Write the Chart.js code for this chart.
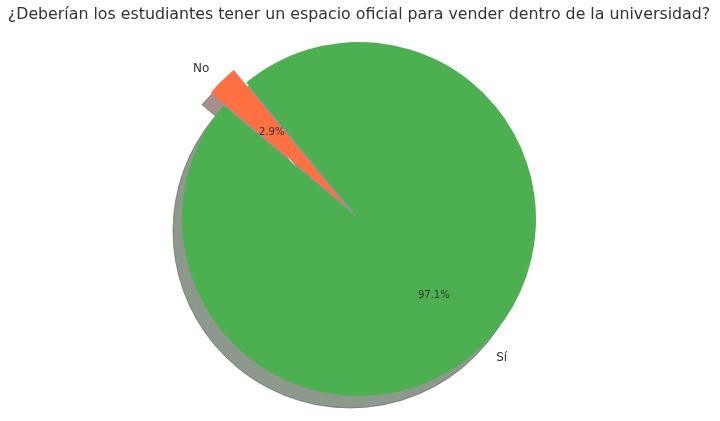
<!DOCTYPE html>
<html>
<head>
<meta charset="utf-8">
<script src="https://cdn.jsdelivr.net/npm/chart.js@4/dist/chart.umd.min.js"></script>
<style>
  html, body { margin: 0; padding: 0; background: #fff; }
  #wrap { width: 720px; height: 421px; }
</style>
</head>
<body>
<div id="wrap"><canvas id="pieChart"></canvas></div>
<script>
// datos del gráfico
const etiquetas = ['No', 'Sí'];
const valores = [2.9, 97.1];
const colores = ['#FF7043', '#4CAF50'];
const coloresSombra = ['rgb(166,144,137)', 'rgb(140,153,140)'];
const separar = [0.1, 0]; // fracción del radio

const titulo = '¿Deberían los estudiantes tener un espacio oficial para vender dentro de la universidad?';

// separa la porción "No" del centro
const explodePlugin = {
  id: 'explode',
  afterDatasetUpdate(chart, args) {
    args.meta.data.forEach(function(el, i) {
      const mid = (el.startAngle + el.endAngle) / 2;
      const d = separar[i] * el.outerRadius;
      el.x += Math.cos(mid) * d;
      el.y += Math.sin(mid) * d;
    });
  }
};

// sombra debajo de cada porción
const shadowPlugin = {
  id: 'sombra',
  beforeDatasetsDraw(chart) {
    const ctx = chart.ctx;
    const arcs = chart.getDatasetMeta(0).data;
    ctx.save();
    ctx.translate(-9, 12);
    arcs.forEach(function(el, i) {
      ctx.beginPath();
      ctx.moveTo(el.x, el.y);
      ctx.arc(el.x, el.y, el.outerRadius, el.startAngle, el.endAngle);
      ctx.closePath();
      ctx.fillStyle = coloresSombra[i];
      ctx.fill();
      ctx.strokeStyle = 'rgba(90,95,90,0.6)';
      ctx.lineWidth = 1;
      ctx.stroke();
    });
    ctx.restore();
  }
};

// etiquetas y porcentajes
const labelPlugin = {
  id: 'etiquetas',
  afterDatasetsDraw(chart) {
    const ctx = chart.ctx;
    const arcs = chart.getDatasetMeta(0).data;
    const total = valores.reduce((a, b) => a + b, 0);
    ctx.save();
    ctx.fillStyle = '#333';
    ctx.textBaseline = 'middle';
    arcs.forEach(function(el, i) {
      const mid = (el.startAngle + el.endAngle) / 2;
      const r = el.outerRadius;
      const c = Math.cos(mid), s = Math.sin(mid);
      // nombre afuera
      ctx.font = '12px "DejaVu Sans"';
      ctx.textAlign = c < 0 ? 'right' : 'left';
      ctx.fillText(etiquetas[i], el.x + c * r * 1.1, el.y + s * r * 1.1 + 1);
      // porcentaje adentro
      ctx.font = '10px "DejaVu Sans"';
      ctx.textAlign = 'center';
      const pct = (valores[i] / total * 100).toFixed(1) + '%';
      ctx.fillText(pct, el.x + c * r * 0.6, el.y + s * r * 0.6 + 1);
    });
    ctx.restore();
  }
};

const ctx = document.getElementById('pieChart').getContext('2d');
const pieChart = new Chart(ctx, {
  type: 'pie',
  data: {
    labels: etiquetas,
    datasets: [{
      data: valores,
      backgroundColor: colores,
      borderWidth: 0
    }]
  },
  options: {
    responsive: true,
    maintainAspectRatio: false,
    animation: false,
    events: [],
    rotation: -50,
    radius: 177,
    layout: {
      padding: { left: 0, right: 2, top: 0, bottom: 7 }
    },
    plugins: {
      legend: { display: false },
      tooltip: { enabled: false },
      title: {
        display: true,
        text: titulo,
        color: '#333',
        font: { family: '"DejaVu Sans"', size: 15.8, weight: 'normal' },
        padding: { top: 5, bottom: 0 }
      }
    }
  },
  plugins: [explodePlugin, shadowPlugin, labelPlugin]
});
</script>
</body>
</html>
